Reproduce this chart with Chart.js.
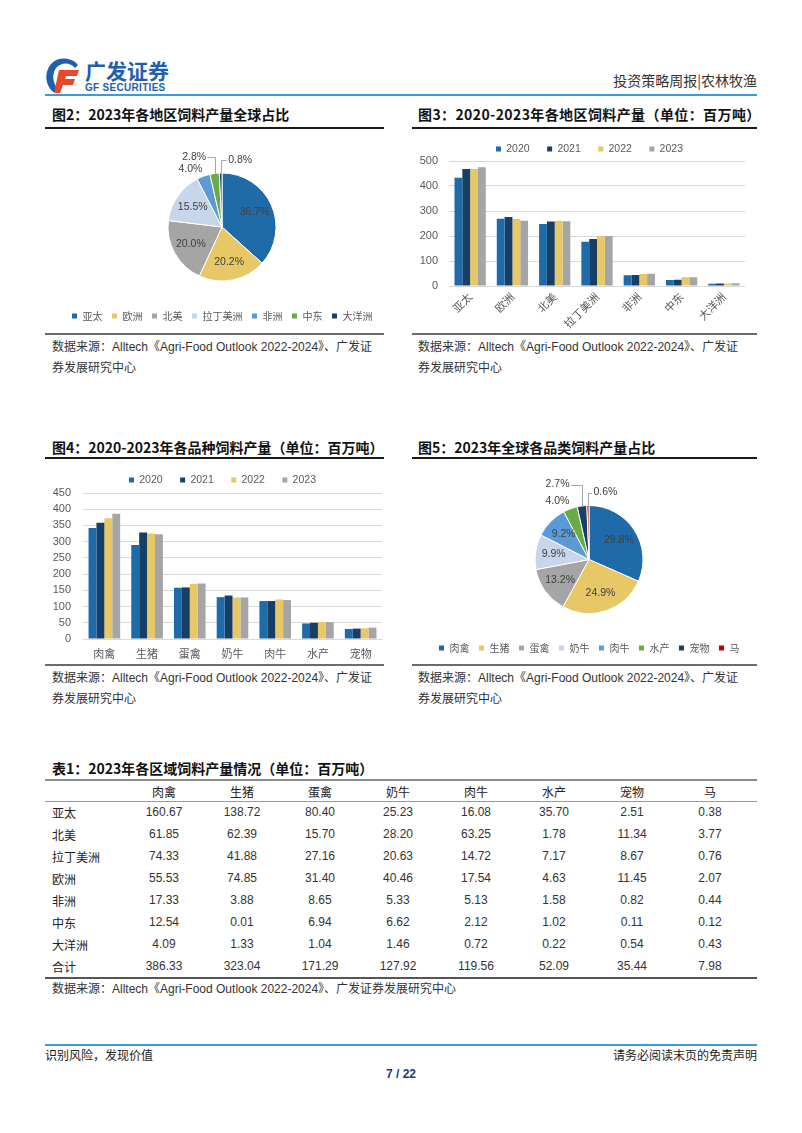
<!DOCTYPE html>
<html>
<head>
<meta charset="utf-8">
<title>投资策略周报|农林牧渔</title>
<script src="https://cdn.jsdelivr.net/npm/chart.js@4.4.1/dist/chart.umd.min.js"></script>
<style>
  body { margin: 0; background: #fff; }
  #page { position: relative; width: 802px; height: 1133px; overflow: hidden; font-family: "Liberation Sans", "Noto Sans CJK SC", sans-serif; color: #222; }
  .abs { position: absolute; white-space: nowrap; }
  .title { font-family: "Noto Sans CJK SC", sans-serif; font-weight: bold; font-size: 14px; line-height: 18px; color: #111; }
  .rule { position: absolute; height: 2px; background: #1a1a1a; }
  .srcrule { position: absolute; height: 2px; background: #6b6b6b; }
  .src { font-size: 12px; line-height: 21px; color: #333; }
  .chartbox { position: absolute; }
  #feedTable { position: absolute; left: 45px; top: 781px; border-collapse: collapse; table-layout: fixed; font-size: 12px; color: #333; }
  #feedTable td { padding: 0; text-align: center; height: 22px; }
  #feedTable tr.head td { height: 20px; font-family: "Noto Sans CJK SC", sans-serif; color: #222; }
  #feedTable td.rowname { text-align: left; padding-left: 7px; font-family: "Noto Sans CJK SC", sans-serif; color: #222; }
</style>
</head>
<body>
<div id="page">
  <!-- header -->
  <svg class="abs" style="left:44px;top:56px" width="38" height="38" viewBox="0 0 38 38">
    <path d="M34 9 C28 1 14 0 7 8 C0 16 1 29 9 36 L17 36 C9 30 7 19 12 12 C17 6 26 6 31 12 Z" fill="#1f5fae"/>
    <path d="M15 14 H35 L33 20 H22 L21 23 H31 L29 29 H19 L16 37 H10 Z" fill="#e8492b"/>
  </svg>
  <div class="abs" style="left:85px;top:57px;font-family:'Noto Sans CJK SC';font-weight:bold;font-size:21px;line-height:26px;color:#1f5fae;">广发证券</div>
  <div class="abs" style="left:85px;top:82px;font-family:'Liberation Sans';font-weight:bold;font-size:10px;line-height:12px;color:#1f5fae;letter-spacing:0.3px;">GF SECURITIES</div>
  <div class="abs" style="right:45px;top:71px;font-family:'Noto Sans CJK SC';font-size:14px;line-height:18px;color:#333;">投资策略周报|农林牧渔</div>
  <div class="abs" style="left:45px;top:94px;width:712px;height:2px;background:#3c9bd6;"></div>

  <!-- row 1 -->
  <div class="abs title" style="left:52px;top:105px;">图2：2023年各地区饲料产量全球占比</div>
  <div class="rule" style="left:45px;top:127px;width:339px;"></div>
  <div class="abs title" style="left:418px;top:105px;letter-spacing:0.4px;">图3：2020-2023年各地区饲料产量（单位：百万吨）</div>
  <div class="rule" style="left:412px;top:127px;width:345px;"></div>

  <div class="chartbox" style="left:40px;top:140px;width:364px;height:191px;"><canvas id="regionPie"></canvas></div>
  <div class="chartbox" style="left:410px;top:123px;width:335px;height:207px;"><canvas id="regionBar"></canvas></div>

  <div class="srcrule" style="left:45px;top:333px;width:339px;"></div>
  <div class="srcrule" style="left:412px;top:333px;width:345px;"></div>
  <div class="abs src" style="left:52px;top:337px;">数据来源：Alltech《Agri-Food Outlook 2022-2024》、广发证<br>券发展研究中心</div>
  <div class="abs src" style="left:418px;top:337px;">数据来源：Alltech《Agri-Food Outlook 2022-2024》、广发证<br>券发展研究中心</div>

  <!-- row 2 -->
  <div class="abs title" style="left:52px;top:438px;">图4：2020-2023年各品种饲料产量（单位：百万吨）</div>
  <div class="rule" style="left:45px;top:457px;width:339px;"></div>
  <div class="abs title" style="left:418px;top:438px;">图5：2023年全球各品类饲料产量占比</div>
  <div class="rule" style="left:412px;top:457px;width:345px;"></div>

  <div class="chartbox" style="left:45px;top:455px;width:337px;height:210px;"><canvas id="speciesBar"></canvas></div>
  <div class="chartbox" style="left:410px;top:470px;width:358px;height:193px;"><canvas id="speciesPie"></canvas></div>

  <div class="srcrule" style="left:45px;top:664px;width:339px;"></div>
  <div class="srcrule" style="left:412px;top:664px;width:345px;"></div>
  <div class="abs src" style="left:52px;top:668px;">数据来源：Alltech《Agri-Food Outlook 2022-2024》、广发证<br>券发展研究中心</div>
  <div class="abs src" style="left:418px;top:668px;">数据来源：Alltech《Agri-Food Outlook 2022-2024》、广发证<br>券发展研究中心</div>

  <!-- table -->
  <div class="abs title" style="left:52px;top:759px;">表1：2023年各区域饲料产量情况（单位：百万吨）</div>
  <div class="abs" style="left:45px;top:779px;width:712px;height:2px;background:#8c8c8c;"></div>
  <div class="abs" style="left:45px;top:801px;width:712px;height:1px;background:#9a9a9a;"></div>
  <table id="feedTable"></table>
  <div class="abs" style="left:45px;top:977px;width:712px;height:2px;background:#555;"></div>
  <div class="abs src" style="left:52px;top:979px;">数据来源：Alltech《Agri-Food Outlook 2022-2024》、广发证券发展研究中心</div>

  <!-- footer -->
  <div class="abs" style="left:45px;top:1044px;width:712px;height:2px;background:#3c9bd6;"></div>
  <div class="abs" style="left:45px;top:1047px;font-family:'Noto Sans CJK SC';font-size:12px;line-height:16px;color:#222;">识别风险，发现价值</div>
  <div class="abs" style="right:45px;top:1047px;font-family:'Noto Sans CJK SC';font-size:12px;line-height:16px;color:#222;">请务必阅读末页的免责声明</div>
  <div class="abs" style="left:0;width:802px;text-align:center;top:1066px;font-weight:bold;font-size:12px;line-height:16px;color:#1e3a6e;">7 / 22</div>
</div>

<script>
// 图2 各地区占比（%）
var regions = ['亚太', '欧洲', '北美', '拉丁美洲', '非洲', '中东', '大洋洲'];
var regionShare2023 = [36.7, 20.2, 20.0, 15.5, 4.0, 2.8, 0.8];

// 图3 各地区饲料产量（百万吨）
var years = ['2020', '2021', '2022', '2023'];
var regionFeed2020 = [433, 269, 248, 177, 43, 24, 9];
var regionFeed2021 = [468, 276, 258, 188, 44, 25, 10];
var regionFeed2022 = [468, 268, 261, 199, 48, 35, 10];
var regionFeed2023 = [475, 261, 259, 200, 49, 35, 11];

// 图4 各品种饲料产量（百万吨）
var species = ['肉禽', '生猪', '蛋禽', '奶牛', '肉牛', '水产', '宠物'];
var speciesFeed2020 = [342, 290, 158, 129, 117, 48, 31];
var speciesFeed2021 = [358, 328, 159, 134, 117, 50, 32];
var speciesFeed2022 = [372, 325, 170, 128, 122, 52, 33];
var speciesFeed2023 = [386, 323, 171, 128, 120, 52, 35];

// 图5 各品类占比（%）
var feedTypes = ['肉禽', '生猪', '蛋禽', '奶牛', '肉牛', '水产', '宠物', '马'];
var feedTypeShare2023 = [29.8, 24.9, 13.2, 9.9, 9.2, 4.0, 2.7, 0.6];

// 表1
var tableRegions = ['亚太', '北美', '拉丁美洲', '欧洲', '非洲', '中东', '大洋洲', '合计'];
var rowAsiaPacific = ['160.67', '138.72', '80.40', '25.23', '16.08', '35.70', '2.51', '0.38'];
var rowNorthAmerica = ['61.85', '62.39', '15.70', '28.20', '63.25', '1.78', '11.34', '3.77'];
var rowLatinAmerica = ['74.33', '41.88', '27.16', '20.63', '14.72', '7.17', '8.67', '0.76'];
var rowEurope = ['55.53', '74.85', '31.40', '40.46', '17.54', '4.63', '11.45', '2.07'];
var rowAfrica = ['17.33', '3.88', '8.65', '5.33', '5.13', '1.58', '0.82', '0.44'];
var rowMiddleEast = ['12.54', '0.01', '6.94', '6.62', '2.12', '1.02', '0.11', '0.12'];
var rowOceania = ['4.09', '1.33', '1.04', '1.46', '0.72', '0.22', '0.54', '0.43'];
var rowTotal = ['386.33', '323.04', '171.29', '127.92', '119.56', '52.09', '35.44', '7.98'];

var blue = '#1f6aa8', navy = '#173f66', gold = '#e8c766', grey = '#a5a5a5';
var paleBlue = '#c7d6ea', midBlue = '#5b9bd5', green = '#6aab47', red = '#c00000';
var cjk = '"Noto Sans CJK SC", sans-serif';
var latin = '"Liberation Sans", Arial, sans-serif';

Chart.defaults.animation = false;
Chart.defaults.color = '#595959';
Chart.defaults.font.family = latin;

// move legend a bit, Chart.js always glues it to the chart area
var legendShift = {
    id: 'legendShift',
    afterLayout: function(chart, args, opts) {
        var lg = chart.legend;
        if (!lg) return;
        lg.left += opts.dx || 0; lg.right += opts.dx || 0;
        lg.top += opts.dy || 0; lg.bottom += opts.dy || 0;
    }
};

// percentage labels on the slices, small ones outside with a leader line
var pieLabels = {
    id: 'pieLabels',
    afterDatasetsDraw: function(chart, args, opts) {
        var ctx = chart.ctx;
        var arcs = chart.getDatasetMeta(0).data;
        var values = chart.data.datasets[0].data;
        var outside = opts.outside || {};
        ctx.save();
        ctx.font = '10.5px ' + latin;
        ctx.fillStyle = '#404040';
        ctx.strokeStyle = '#a6a6a6';
        ctx.lineWidth = 1;
        ctx.textBaseline = 'middle';
        arcs.forEach(function(arc, i) {
            var p = arc.getProps(['x', 'y', 'startAngle', 'endAngle', 'outerRadius'], true);
            var mid = (p.startAngle + p.endAngle) / 2;
            var cos = Math.cos(mid), sin = Math.sin(mid);
            var text = values[i].toFixed(1) + '%';
            var ex = p.x + cos * p.outerRadius, ey = p.y + sin * p.outerRadius;
            var o = outside[i];
            if (!o) {
                var rr = p.outerRadius * 0.66;
                ctx.textAlign = 'center';
                ctx.fillText(text, p.x + cos * rr, p.y + sin * rr);
            } else if (o.side) {
                ctx.textAlign = 'right';
                ctx.fillText(text, ex - 1, ey - 7.5);
            } else {
                var ty = p.y - p.outerRadius - o.rise;
                var hx = ex + o.dir * o.arm;
                ctx.beginPath();
                ctx.moveTo(Math.round(ex) + 0.5, ey);
                ctx.lineTo(Math.round(ex) + 0.5, Math.round(ty) + 0.5);
                ctx.lineTo(hx, Math.round(ty) + 0.5);
                ctx.stroke();
                ctx.textAlign = o.dir < 0 ? 'right' : 'left';
                ctx.fillText(text, hx + o.dir * 1.5, ty);
            }
        });
        ctx.restore();
    }
};

function pieChart(id, labels, values, colors, outside, layoutTop) {
    return new Chart(document.getElementById(id), {
        type: 'pie',
        data: {
            labels: labels,
            datasets: [{
                data: values,
                backgroundColor: colors,
                borderColor: '#ffffff',
                borderWidth: 1,
                radius: 54
            }]
        },
        options: {
            responsive: true,
            maintainAspectRatio: false,
            layout: { padding: { top: layoutTop } },
            plugins: {
                legend: {
                    position: 'bottom',
                    labels: { boxWidth: 6, boxHeight: 6, padding: 9, color: '#595959', font: { family: cjk, size: 10 } }
                },
                tooltip: { enabled: false },
                pieLabels: { outside: outside }
            }
        },
        plugins: [pieLabels]
    });
}

function barChart(id, labels, sets, yMax, yStep, yWidth, yPad, xHeight, xOpts, shift) {
    var colors = [blue, navy, gold, grey];
    return new Chart(document.getElementById(id), {
        type: 'bar',
        data: {
            labels: labels,
            datasets: sets.map(function(s, i) {
                return { label: years[i], data: s, backgroundColor: colors[i], borderWidth: 0,
                         categoryPercentage: 0.74, barPercentage: 1 };
            })
        },
        options: {
            responsive: true,
            maintainAspectRatio: false,
            plugins: {
                legend: {
                    position: 'top',
                    labels: { boxWidth: 5, boxHeight: 5, padding: 17.5, color: '#595959', font: { size: 10.5 } }
                },
                tooltip: { enabled: false },
                legendShift: shift
            },
            scales: {
                y: {
                    min: 0, max: yMax,
                    ticks: { stepSize: yStep, padding: yPad, color: '#595959', font: { size: 11 } },
                    grid: { color: '#d9d9d9', drawTicks: false },
                    border: { display: false },
                    afterFit: function(scale) { scale.width = yWidth; }
                },
                x: {
                    grid: { display: false, drawTicks: false },
                    border: { display: true, color: '#d9d9d9' },
                    ticks: Object.assign({ autoSkip: false, color: '#595959', font: { family: cjk, size: 11 } }, xOpts),
                    afterFit: function(scale) { scale.height = xHeight; }
                }
            }
        },
        plugins: [legendShift]
    });
}

pieChart('regionPie', regions, regionShare2023,
    [blue, gold, grey, paleBlue, midBlue, green, navy],
    { 4: { side: true }, 5: { dir: -1, rise: 16, arm: 7 }, 6: { dir: 1, rise: 13, arm: 6 } }, 12);

barChart('regionBar', regions, [regionFeed2020, regionFeed2021, regionFeed2022, regionFeed2023],
    500, 100, 39, 11, 44, { maxRotation: 45, minRotation: 45, padding: 4 }, { dx: 12, dy: 3.25 });

barChart('speciesBar', species, [speciesFeed2020, speciesFeed2021, speciesFeed2022, speciesFeed2023],
    450, 50, 38, 12, 26, { maxRotation: 0, padding: 8 }, { dx: 9, dy: 2.25 });

pieChart('speciesPie', feedTypes, feedTypeShare2023,
    [blue, gold, grey, paleBlue, midBlue, green, navy, red],
    { 5: { side: true }, 6: { dir: -1, rise: 21, arm: 11 }, 7: { dir: 1, rise: 13, arm: 4 } }, 15);

// 表1
var table = document.getElementById('feedTable');
var rows = [rowAsiaPacific, rowNorthAmerica, rowLatinAmerica, rowEurope, rowAfrica, rowMiddleEast, rowOceania, rowTotal];
var html = '<colgroup><col style="width:80px">' + feedTypes.map(function() { return '<col style="width:78px">'; }).join('') + '</colgroup>';
html += '<tr class="head"><td></td>' + feedTypes.map(function(t) { return '<td>' + t + '</td>'; }).join('') + '</tr>';
rows.forEach(function(r, i) {
    html += '<tr><td class="rowname">' + tableRegions[i] + '</td>' + r.map(function(v) { return '<td>' + v + '</td>'; }).join('') + '</tr>';
});
table.innerHTML = html;
</script>
</body>
</html>
